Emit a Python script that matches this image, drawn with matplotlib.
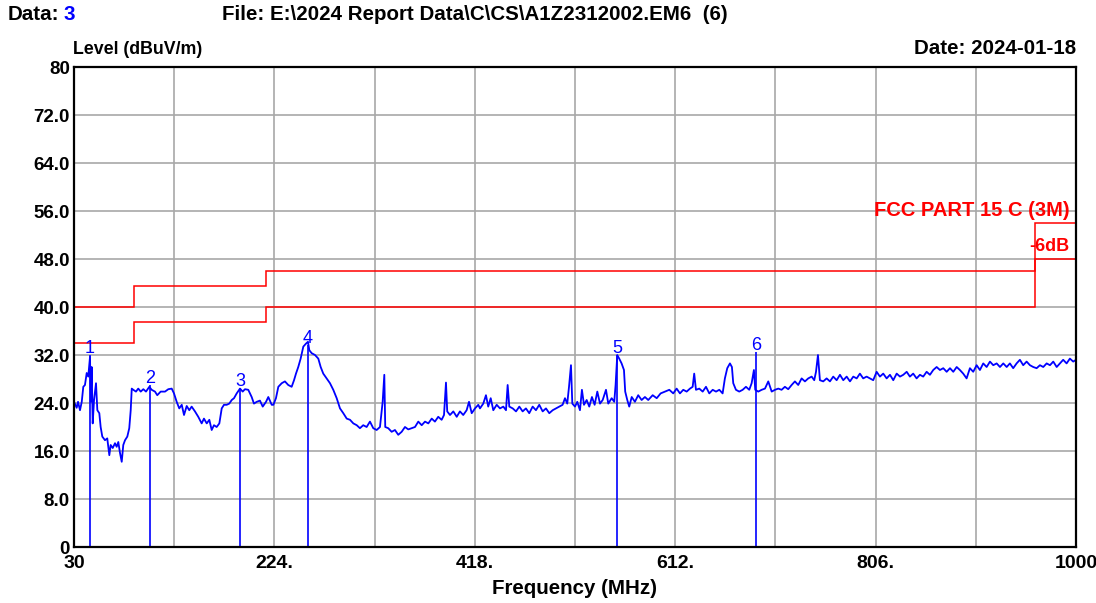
import matplotlib
matplotlib.use("Agg")
import matplotlib.pyplot as plt
import numpy as np

freq = [30.0, 32.6, 33.9, 35.8, 37.5, 39.0, 40.6, 42.3, 43.8, 45.5, 46.2, 47.1, 48.1, 49.4,
        51.3, 52.6, 54.5, 55.8, 57.4, 60.0, 62.2, 64.2, 65.5, 67.5, 69.7, 71.3, 72.9, 74.5,
        76.2, 77.7, 79.4, 81.6, 83.5, 84.9, 85.9, 87.4, 90.0, 92.2, 94.6, 97.1, 99.7, 102.9,
        105.2, 108.4, 110.6, 113.9, 118.1, 121.3, 124.6, 126.8, 129.4, 131.9, 134.3, 136.5,
        139.1, 141.6, 143.9, 147.1, 150.3, 153.6, 155.8, 158.5, 161.0, 163.3, 165.5, 168.1,
        170.7, 173.0, 175.2, 177.8, 180.3, 182.7, 184.9, 187.5, 190.7, 193.3, 195.5, 198.7,
        202.0, 204.2, 206.9, 210.0, 212.7, 215.9, 218.1, 221.4, 223.0, 225.5, 227.8, 231.1,
        234.2, 237.4, 240.7, 243.0, 244.9, 247.1, 249.4, 252.0, 254.6, 256.5, 257.8, 260.1,
        263.3, 266.5, 268.8, 271.3, 274.6, 277.8, 281.0, 284.3, 287.5, 290.7, 294.0, 297.2,
        300.4, 303.7, 306.8, 310.0, 313.3, 316.5, 319.7, 323.0, 326.2, 328.8, 330.4, 331.3,
        334.2, 337.5, 340.7, 343.9, 347.2, 350.4, 353.6, 356.9, 360.1, 363.3, 366.6, 369.8,
        373.0, 376.3, 379.4, 382.6, 385.9, 388.2, 390.1, 391.3, 394.0, 397.2, 400.5, 403.6,
        406.8, 410.1, 412.4, 415.0, 418.2, 421.4, 423.0, 426.2, 428.8, 431.0, 433.4, 435.9,
        439.2, 442.4, 445.6, 448.2, 449.8, 451.4, 454.7, 457.9, 461.1, 464.3, 467.5, 470.7,
        474.0, 477.2, 480.4, 483.7, 486.9, 490.1, 493.4, 496.6, 499.8, 503.0, 505.3, 507.5,
        509.2, 511.1, 512.4, 515.0, 517.2, 519.8, 521.7, 523.7, 526.3, 528.8, 531.4, 534.0,
        536.6, 539.2, 541.8, 545.0, 547.2, 550.5, 553.0, 554.3, 555.9, 557.8, 560.1, 562.4,
        563.6, 565.6, 567.5, 569.9, 573.0, 576.2, 579.5, 582.7, 585.9, 590.2, 594.1, 597.9,
        602.1, 606.3, 610.1, 613.4, 616.6, 619.8, 623.1, 626.3, 628.9, 630.4, 632.1, 635.3,
        638.6, 641.8, 645.0, 648.3, 651.5, 654.7, 657.9, 660.1, 662.4, 665.0, 666.9, 668.2,
        670.8, 674.0, 677.3, 680.5, 683.7, 686.0, 688.2, 689.5, 692.4, 695.7, 698.9, 702.1,
        705.4, 708.6, 711.8, 715.0, 718.2, 721.4, 724.7, 727.9, 731.1, 734.4, 737.6, 740.8,
        744.1, 746.6, 748.3, 750.2, 752.1, 755.3, 758.6, 761.8, 765.0, 768.3, 771.5, 774.7,
        778.0, 781.2, 784.4, 787.7, 790.8, 794.0, 797.3, 800.5, 803.7, 807.0, 810.2, 813.4,
        816.7, 819.9, 823.1, 826.4, 829.6, 832.8, 836.1, 839.2, 842.4, 845.7, 848.9, 852.1,
        855.4, 858.6, 861.8, 865.1, 868.3, 871.5, 874.8, 878.0, 881.2, 884.5, 887.6, 890.8,
        894.1, 897.3, 900.5, 903.8, 907.0, 910.2, 913.5, 916.7, 919.9, 923.2, 926.4, 929.6,
        932.9, 936.0, 939.2, 942.5, 945.7, 948.9, 952.2, 955.4, 958.6, 961.9, 965.1, 968.3,
        971.6, 974.8, 978.0, 981.3, 984.4, 987.6, 990.9, 994.1, 997.3, 1000.0]
level = [24.2, 23.2, 24.2, 22.8, 24.2, 26.7, 27.0, 29.0, 28.4, 31.7, 24.2, 30.0, 20.6, 24.5,
         27.3, 22.8, 22.3, 20.0, 18.4, 17.8, 18.1, 15.3, 17.0, 16.5, 17.3, 16.7, 17.5, 15.7,
         14.2, 17.0, 17.8, 18.4, 19.8, 22.8, 26.4, 26.2, 25.9, 26.4, 25.9, 26.3, 25.9, 26.7,
         26.2, 25.9, 25.3, 25.9, 25.9, 26.3, 26.4, 25.6, 24.2, 23.1, 23.7, 22.0,
         23.5, 22.8, 23.4, 22.6, 21.7, 20.6, 21.4, 20.6, 21.2, 19.5, 20.3, 20.0,
         20.6, 23.1, 23.7, 23.7, 23.9, 24.5, 24.8, 25.6, 26.4, 25.9, 26.3, 26.2,
         25.0, 23.9, 24.2, 24.4, 23.4, 24.2, 25.0, 23.7, 23.7, 24.8, 26.7, 27.3,
         27.6, 27.0, 26.7, 27.8, 28.9, 30.0, 31.4, 33.4, 33.9, 34.2, 32.8, 32.3,
         32.0, 31.4, 30.0, 28.9, 28.1, 27.3, 26.2, 24.8, 23.1, 22.3, 21.4, 21.2,
         20.6, 20.3, 19.8, 20.3, 20.0, 20.9, 19.8, 19.5, 20.0, 24.2, 28.7, 20.0,
         19.8, 19.2, 19.5, 18.7, 19.2, 20.0, 19.6, 19.8, 20.0, 20.9, 20.3, 20.9,
         20.6, 21.4, 20.9, 21.7, 21.2, 22.0, 27.4, 22.6, 22.0, 22.6, 21.7, 22.6,
         22.0, 22.8, 24.2, 22.3, 23.1, 23.7, 23.1, 23.9, 25.3, 23.4, 24.8, 22.8,
         23.7, 23.1, 23.4, 22.8, 27.0, 23.4, 23.1, 22.6, 23.4, 22.6, 23.1, 22.3,
         23.4, 22.8, 23.7, 22.6, 23.1, 22.3, 22.8, 23.1, 23.4, 23.7, 24.8, 23.9,
         26.7, 30.3, 23.9, 23.4, 24.2, 22.8, 26.2, 23.7, 24.5, 23.4, 25.0, 23.7,
         25.9, 23.9, 24.5, 26.2, 23.9, 24.8, 24.2, 27.0, 32.0, 31.4, 30.6, 29.5,
         25.9, 24.5, 23.4, 25.0, 24.2, 25.3, 24.5, 25.0, 24.5, 25.3, 24.8, 25.6,
         25.9, 26.2, 25.6, 26.4, 25.6, 26.2, 25.9, 26.4, 26.7, 28.9, 26.2, 26.4,
         25.9, 26.7, 25.6, 26.2, 25.9, 26.2, 25.6, 28.1, 29.8, 30.6, 30.0, 27.3,
         26.2, 25.9, 26.2, 26.7, 26.2, 27.3, 29.5, 26.2, 25.9, 26.2, 26.4, 27.6,
         25.9, 26.2, 26.4, 26.2, 26.7, 26.3, 27.0, 27.6, 27.0, 28.1, 27.6, 28.1,
         28.4, 27.8, 29.2, 32.0, 27.8, 27.6, 28.1, 27.6, 28.4, 27.8, 28.7, 27.8,
         28.4, 27.6, 28.4, 28.1, 28.9, 28.1, 28.4, 28.1, 27.8, 29.2, 28.4, 28.9,
         28.1, 28.7, 27.8, 28.9, 28.4, 28.7, 29.2, 28.4, 28.9, 28.1, 28.7, 28.4,
         29.2, 28.7, 29.5, 30.0, 29.5, 29.8, 29.2, 29.8, 29.2, 30.0, 29.5, 28.9,
         28.1, 29.8, 29.2, 30.3, 29.5, 30.6, 30.0, 30.9, 30.3, 30.6, 30.0, 30.6,
         30.0, 30.6, 29.8, 30.6, 31.2, 30.3, 30.9, 30.3, 30.0, 29.8, 30.3, 30.0,
         30.6, 30.3, 30.9, 30.0, 30.6, 31.2, 30.6, 31.4, 30.9, 31.2]

# FCC Part 15 C (3M) limit and the -6dB margin line
limit_edges = [30, 88, 216, 960, 1000]
limit_levels = [40.0, 43.5, 46.0, 54.0]
margin_levels = [34.0, 37.5, 40.0, 48.0]

# marked peaks
marker_ids = ["1", "2", "3", "4", "5", "6"]
marker_freq = [45.5, 103.6, 190.7, 256.5, 555.6, 690.2]
marker_level = [32.0, 27.0, 26.5, 33.7, 32.0, 32.5]

xticks = [30, 224, 418, 612, 806, 1000]
xtick_labels = ["30", "224.", "418.", "612.", "806.", "1000"]
xminor = [127, 321, 515, 709, 903]
yticks = [0, 8, 16, 24, 32, 40, 48, 56, 64, 72, 80]
ytick_labels = ["0", "8.0", "16.0", "24.0", "32.0", "40.0", "48.0", "56.0", "64.0", "72.0", "80"]

BLUE = "#0000ff"
RED = "#ff0000"
W, H = 1096, 603

plt.rcParams["font.family"] = ["Liberation Sans", "DejaVu Sans"]


def fx(px):
    return px / W


def fy(py):
    return 1 - py / H


fig = plt.figure(figsize=(W / 100, H / 100), dpi=100)
ax = fig.add_axes([fx(74), fy(547), (1076 - 74) / W, (547 - 67) / H])

ax.set_xlim(30, 1000)
ax.set_ylim(0, 80)
ax.set_xticks(xticks)
ax.set_xticklabels(xtick_labels)
ax.set_xticks(xminor, minor=True)
ax.set_yticks(yticks)
ax.set_yticklabels(ytick_labels)
ax.tick_params(which="both", length=0)
ax.tick_params(axis="y", pad=3, labelsize=13.5)
ax.tick_params(axis="x", pad=6, labelsize=14)
for lab in ax.get_xticklabels() + ax.get_yticklabels():
    lab.set_fontweight("bold")

ax.grid(True, which="both", color="#a8a8a8", linewidth=1.2)
ax.set_axisbelow(True)
for s in ax.spines.values():
    s.set_color("black")
    s.set_linewidth(1.6)

ax.stairs(limit_levels, limit_edges, baseline=None, color=RED, linewidth=1.1)
ax.stairs(margin_levels, limit_edges, baseline=None, color=RED, linewidth=1.1)

ax.plot(freq, level, color=BLUE, linewidth=1.3)
ax.vlines(marker_freq, 0, marker_level, color=BLUE, linewidth=1.2)
for mid, mf, ml in zip(marker_ids, marker_freq, marker_level):
    ax.text(mf, ml - 0.3, mid, color=BLUE, fontsize=13, ha="center", va="bottom")

ax.text(994, 54.5, "FCC PART 15 C (3M)", color=RED, fontsize=14.5, fontweight="bold",
        ha="right", va="bottom")
ax.text(994, 48.6, "-6dB", color=RED, fontsize=13, fontweight="bold",
        ha="right", va="bottom")

big = dict(fontsize=14.8, fontweight="bold")
fig.text(fx(8), fy(14), "Data:", ha="left", va="center", **big)
fig.text(fx(64), fy(14), "3", ha="left", va="center", color=BLUE, **big)
fig.text(fx(222), fy(14), "File: E:\\2024 Report Data\\C\\CS\\A1Z2312002.EM6  (6)",
         ha="left", va="center", **big)
fig.text(fx(73), fy(50), "Level (dBuV/m)", ha="left", va="center", fontsize=12.8,
         fontweight="bold")
fig.text(fx(1076), fy(48), "Date: 2024-01-18", ha="right", va="center", **big)
fig.text(fx(575), fy(588), "Frequency (MHz)", ha="center", va="center", **big)

fig.savefig("out.png", dpi=100)
